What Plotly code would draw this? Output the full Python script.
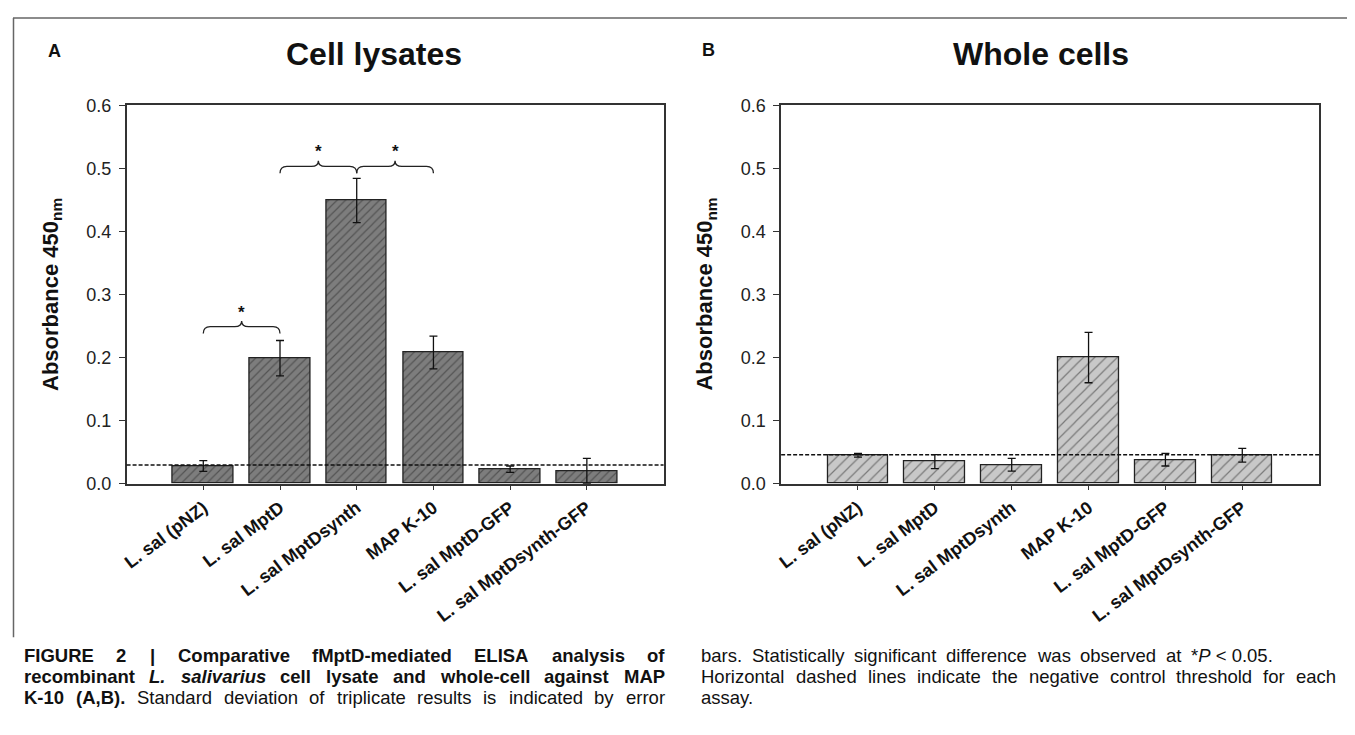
import plotly.graph_objects as go

# page body has an 8px default margin: the figure is drawn 8px in from the window edge
OFF = 8
W, H = 1345, 719

categories = ["L. sal (pNZ)", "L. sal MptD", "L. sal MptDsynth", "MAP K-10",
              "L. sal MptD-GFP", "L. sal MptDsynth-GFP"]
lysate_values = [0.028, 0.199, 0.449, 0.208, 0.023, 0.020]
lysate_errors = [0.0085, 0.028, 0.035, 0.026, 0.005, 0.020]
lysate_threshold = 0.0295
whole_values = [0.045, 0.035, 0.030, 0.200, 0.038, 0.045]
whole_errors = [0.003, 0.011, 0.010, 0.040, 0.010, 0.011]
whole_threshold = 0.046
y_ticks = [0.0, 0.1, 0.2, 0.3, 0.4, 0.5, 0.6]
# significance brackets in panel A: (from category, to category, height)
brackets = [(0, 1, 0.249), (1, 2, 0.503), (2, 3, 0.503)]

FONT = "Liberation Sans, Arial, sans-serif"
CAP_FONT = "Liberation Sans, Arial, sans-serif"


def px(x):
    return (x - OFF) / W


def py(y):
    return 1 - (y - OFF) / H


xs = list(range(len(categories)))

fig = go.Figure()
fig.add_trace(go.Bar(
    x=xs, y=lysate_values, width=0.79, xaxis="x", yaxis="y",
    marker=dict(color="#7d7d7d", line=dict(color="#222", width=1.3),
                pattern=dict(shape="/", fgcolor="#2a2a2a", bgcolor="#7d7d7d", size=6, solidity=0.2)),
    error_y=dict(type="data", array=lysate_errors, color="#111", thickness=1.3, width=4),
    showlegend=False, hoverinfo="skip"))
fig.add_trace(go.Bar(
    x=xs, y=whole_values, width=0.79, xaxis="x2", yaxis="y2",
    marker=dict(color="#c8c8c8", line=dict(color="#222", width=1.3),
                pattern=dict(shape="/", fgcolor="#2a2a2a", bgcolor="#c8c8c8", size=8, solidity=0.15)),
    error_y=dict(type="data", array=whole_errors, color="#111", thickness=1.3, width=4),
    showlegend=False, hoverinfo="skip"))

axis_common = dict(showline=True, mirror=True, linecolor="#333", linewidth=1.5,
                   showgrid=False, zeroline=False)
xaxis_common = dict(axis_common, range=[-1.0, 6.0], tickvals=xs, ticktext=categories,
                    tickangle=-37, ticks="outside", ticklen=5, tickcolor="#333",
                    tickfont=dict(family=FONT, size=18, color="#111", weight="bold"))
yaxis_common = dict(axis_common, range=[0, 0.6], tickvals=y_ticks, tickformat=".1f",
                    ticks="outside", ticklen=6, tickcolor="#333", ticklabelstandoff=4,
                    tickfont=dict(family=FONT, size=18, color="#222"))

fig.update_layout(
    width=W, height=H, margin=dict(l=0, r=0, t=0, b=0),
    paper_bgcolor="white", plot_bgcolor="white", bargap=0,
    xaxis=dict(xaxis_common, domain=[px(122), px(661)], anchor="y"),
    yaxis=dict(yaxis_common, domain=[py(487), py(97.7)], anchor="x"),
    xaxis2=dict(xaxis_common, domain=[px(779), px(1319)], anchor="y2"),
    yaxis2=dict(yaxis_common, domain=[py(487), py(97.7)], anchor="x2"),
)

shapes = []
# dashed negative-control thresholds
for xr, yr, thr in [("x", "y", lysate_threshold), ("x2", "y2", whole_threshold)]:
    shapes.append(dict(type="line", xref=xr + " domain", yref=yr, x0=0, x1=1, y0=thr, y1=thr,
                       line=dict(color="#111", width=1.5, dash="4px,2px"), layer="above"))

# curly brackets
annotations = []
r, d, t = 0.09, 0.011, 0.009
for a, b, h in brackets:
    m = (a + b) / 2
    path = (f"M {a},{h-d} Q {a},{h} {a+r},{h} L {m-r},{h} Q {m},{h} {m},{h+t} "
            f"Q {m},{h} {m+r},{h} L {b-r},{h} Q {b},{h} {b},{h-d}")
    shapes.append(dict(type="path", xref="x", yref="y", path=path,
                       line=dict(color="#222", width=1.3)))
    annotations.append(dict(x=m, y=h + 0.023, xref="x", yref="y", text="<b>*</b>",
                            showarrow=False, font=dict(family=FONT, size=17, color="#111")))

# outer figure frame
for x0, y0, x1, y1 in [(8, 8, 1349, 8), (8.5, 8, 8.5, 645), (1349, 8, 1349, 727)]:
    shapes.append(dict(type="line", xref="paper", yref="paper", x0=px(x0), y0=py(y0),
                       x1=px(x1), y1=py(y1), line=dict(color="#666", width=1.5)))


def ann(x, y, text, size, anchor="center", angle=0, family=FONT):
    annotations.append(dict(x=px(x), y=py(y), xref="paper", yref="paper", text=text,
                            showarrow=False, xanchor=anchor, yanchor="middle",
                            textangle=angle, font=dict(family=family, size=size, color="#111")))


ann(50, 42, "<b>A</b>", 18)
ann(706, 41, "<b>B</b>", 18)
ann(370, 45, "<b>Cell lysates</b>", 32)
ann(1040, 45, "<b>Whole cells</b>", 32)
ann(47, 292, "<b>Absorbance 450<sub>nm</sub></b>", 22, angle=-90)
ann(704, 292, "<b>Absorbance 450<sub>nm</sub></b>", 22, angle=-90)

# caption, justified word by word (Arial metrics)
AR = dict(zip("abcdefghijklmnopqrstuvwxyz",
              [556, 556, 500, 556, 556, 278, 556, 556, 222, 222, 500, 222, 833, 556, 556, 556,
               556, 333, 500, 278, 556, 500, 722, 500, 500, 500]))
AR.update(dict(zip("ABCDEFGHIJKLMNOPQRSTUVWXYZ",
                   [667, 667, 722, 722, 667, 611, 778, 722, 278, 500, 667, 556, 833, 722, 778, 667,
                    778, 722, 667, 611, 722, 667, 944, 667, 667, 611])))
AR.update({c: 556 for c in "0123456789"})
AR.update({" ": 278, ".": 278, ",": 278, "(": 333, ")": 333, "-": 333, "|": 260, "*": 389, "<": 584})
AB = dict(AR)
AB.update(dict(zip("abcdefghijklmnopqrstuvwxyz",
                   [556, 611, 556, 611, 556, 333, 611, 611, 278, 278, 556, 278, 889, 611, 611, 611,
                    611, 389, 556, 333, 611, 556, 778, 556, 556, 500])))
AB.update(dict(zip("ABCDEFGHIJKLMNOPQRSTUVWXYZ",
                   [722, 722, 722, 722, 667, 611, 778, 722, 278, 556, 722, 611, 833, 722, 778, 667,
                    778, 722, 667, 611, 722, 667, 944, 667, 667, 611])))
AB.update({"|": 280})

CAP_SIZE = 18.5


def wwidth(word, bold):
    tbl = AB if bold else AR
    return sum(tbl.get(c, 556) for c in word) / 1000 * CAP_SIZE


L0, L1, R0 = 17, 660, 697
caption_lines = [
    (L0, L1, 664, True, [("FIGURE", "b"), ("2", "b"), ("|", "b"), ("Comparative", "b"),
                         ("fMptD-mediated", "b"), ("ELISA", "b"), ("analysis", "b"), ("of", "b")]),
    (L0, L1, 685.5, True, [("recombinant", "b"), ("L.", "bi"), ("salivarius", "bi"), ("cell", "b"),
                           ("lysate", "b"), ("and", "b"), ("whole-cell", "b"), ("against", "b"),
                           ("MAP", "b")]),
    (L0, L1, 707, True, [("K-10", "b"), ("(A,B).", "b"), ("Standard", "r"), ("deviation", "r"),
                         ("of", "r"), ("triplicate", "r"), ("results", "r"), ("is", "r"),
                         ("indicated", "r"), ("by", "r"), ("error", "r")]),
    (R0, 1270, 664, True, [("bars.", "r"), ("Statistically", "r"), ("significant", "r"),
                           ("difference", "r"), ("was", "r"), ("observed", "r"), ("at", "r"),
                           ("*<i>P</i>\u00a0<\u00a00.05.", "r")]),
    (R0, 1334, 685.5, True, [("Horizontal", "r"), ("dashed", "r"), ("lines", "r"), ("indicate", "r"),
                             ("the", "r"), ("negative", "r"), ("control", "r"), ("threshold", "r"),
                             ("for", "r"), ("each", "r")]),
    (R0, 1334, 707, False, [("assay.", "r")]),
]

for x0, x1, y, justify, words in caption_lines:
    plain = [w.replace("<i>", "").replace("</i>", "").replace("\u00a0", " ") for w, _ in words]
    widths = [wwidth(p, "b" in s) for p, (_, s) in zip(plain, words)]
    total = sum(widths)
    n = len(words)
    gap = (x1 - x0 - total) / (n - 1) if (justify and n > 1) else CAP_SIZE * 0.278
    x = x0
    for (w, s), wd in zip(words, widths):
        txt = w
        if "i" in s:
            txt = f"<i>{txt}</i>"
        if "b" in s:
            txt = f"<b>{txt}</b>"
        ann(x, y, txt, CAP_SIZE, anchor="left", family=CAP_FONT)
        x += wd + gap

fig.update_layout(shapes=shapes, annotations=annotations)
fig.write_html("out.html")
